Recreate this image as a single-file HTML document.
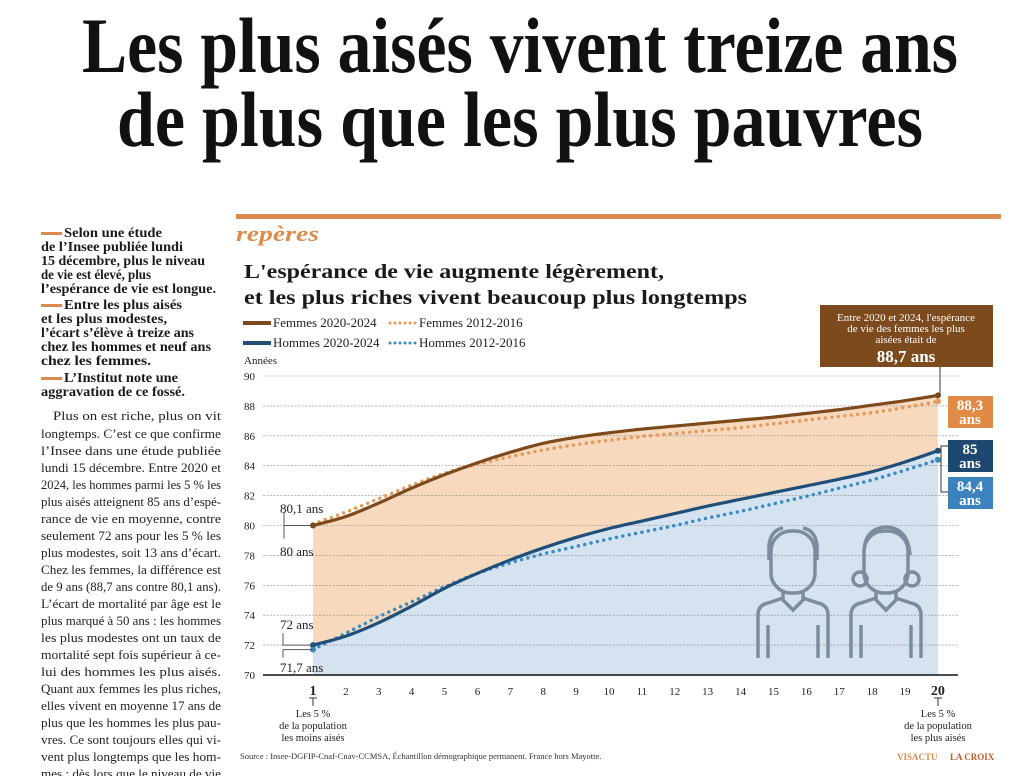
<!DOCTYPE html>
<html><head><meta charset="utf-8">
<style>
html,body{margin:0;padding:0;background:#fff;}
svg{display:block;font-family:"Liberation Serif",serif;}
</style></head>
<body>
<svg id="s" width="1031" height="776" viewBox="0 0 1031 776" xmlns="http://www.w3.org/2000/svg">
<rect width="1031" height="776" fill="#fff"/>
<text x="520" y="72" text-anchor="middle" font-size="78" font-weight="bold" fill="#111" textLength="876" lengthAdjust="spacingAndGlyphs">Les plus aisés vivent treize ans</text>
<text x="520" y="146" text-anchor="middle" font-size="78" font-weight="bold" fill="#111" textLength="806" lengthAdjust="spacingAndGlyphs">de plus que les plus pauvres</text>

<!-- sidebar -->
<g font-size="13.5" font-weight="bold" fill="#1a1a1a">
<rect x="41" y="232" width="21" height="3" fill="#d98c4d"/>
<text x="64" y="237" textLength="98" lengthAdjust="spacingAndGlyphs">Selon une étude</text>
<text x="41" y="251" textLength="142" lengthAdjust="spacingAndGlyphs">de l’Insee publiée lundi</text>
<text x="41" y="265" textLength="164" lengthAdjust="spacingAndGlyphs">15 décembre, plus le niveau</text>
<text x="41" y="279" textLength="110" lengthAdjust="spacingAndGlyphs">de vie est élevé, plus</text>
<text x="41" y="293" textLength="175" lengthAdjust="spacingAndGlyphs">l’espérance de vie est longue.</text>
<rect x="41" y="304" width="21" height="3" fill="#d98c4d"/>
<text x="64" y="309" textLength="118" lengthAdjust="spacingAndGlyphs">Entre les plus aisés</text>
<text x="41" y="323" textLength="126" lengthAdjust="spacingAndGlyphs">et les plus modestes,</text>
<text x="41" y="337" textLength="153" lengthAdjust="spacingAndGlyphs">l’écart s’élève à treize ans</text>
<text x="41" y="351" textLength="170" lengthAdjust="spacingAndGlyphs">chez les hommes et neuf ans</text>
<text x="41" y="365" textLength="110" lengthAdjust="spacingAndGlyphs">chez les femmes.</text>
<rect x="41" y="377" width="21" height="3" fill="#d98c4d"/>
<text x="64" y="382" textLength="114" lengthAdjust="spacingAndGlyphs">L’Institut note une</text>
<text x="41" y="396" textLength="144" lengthAdjust="spacingAndGlyphs">aggravation de ce fossé.</text>
</g>
<g font-size="12.5" fill="#222">
<text x="53" y="420" textLength="168" lengthAdjust="spacingAndGlyphs">Plus on est riche, plus on vit</text>
<text x="41" y="438" textLength="180" lengthAdjust="spacingAndGlyphs">longtemps. C’est ce que confirme</text>
<text x="41" y="455" textLength="180" lengthAdjust="spacingAndGlyphs">l’Insee dans une étude publiée</text>
<text x="41" y="472" textLength="180" lengthAdjust="spacingAndGlyphs">lundi 15 décembre. Entre 2020 et</text>
<text x="41" y="489" textLength="180" lengthAdjust="spacingAndGlyphs">2024, les hommes parmi les 5 % les</text>
<text x="41" y="506" textLength="180" lengthAdjust="spacingAndGlyphs">plus aisés atteignent 85 ans d’espé-</text>
<text x="41" y="523" textLength="180" lengthAdjust="spacingAndGlyphs">rance de vie en moyenne, contre</text>
<text x="41" y="540" textLength="180" lengthAdjust="spacingAndGlyphs">seulement 72 ans pour les 5 % les</text>
<text x="41" y="557" textLength="180" lengthAdjust="spacingAndGlyphs">plus modestes, soit 13 ans d’écart.</text>
<text x="41" y="574" textLength="180" lengthAdjust="spacingAndGlyphs">Chez les femmes, la différence est</text>
<text x="41" y="591" textLength="180" lengthAdjust="spacingAndGlyphs">de 9 ans (88,7 ans contre 80,1 ans).</text>
<text x="41" y="608" textLength="180" lengthAdjust="spacingAndGlyphs">L’écart de mortalité par âge est le</text>
<text x="41" y="625" textLength="180" lengthAdjust="spacingAndGlyphs">plus marqué à 50 ans : les hommes</text>
<text x="41" y="642" textLength="180" lengthAdjust="spacingAndGlyphs">les plus modestes ont un taux de</text>
<text x="41" y="659" textLength="180" lengthAdjust="spacingAndGlyphs">mortalité sept fois supérieur à ce-</text>
<text x="41" y="676" textLength="180" lengthAdjust="spacingAndGlyphs">lui des hommes les plus aisés.</text>
<text x="41" y="693" textLength="180" lengthAdjust="spacingAndGlyphs">Quant aux femmes les plus riches,</text>
<text x="41" y="710" textLength="180" lengthAdjust="spacingAndGlyphs">elles vivent en moyenne 17 ans de</text>
<text x="41" y="727" textLength="180" lengthAdjust="spacingAndGlyphs">plus que les hommes les plus pau-</text>
<text x="41" y="744" textLength="180" lengthAdjust="spacingAndGlyphs">vres. Ce sont toujours elles qui vi-</text>
<text x="41" y="761" textLength="180" lengthAdjust="spacingAndGlyphs">vent plus longtemps que les hom-</text>
<text x="41" y="778" textLength="180" lengthAdjust="spacingAndGlyphs">mes : dès lors que le niveau de vie</text>
</g>

<!-- panel header -->
<rect x="236" y="214" width="765" height="5" fill="#d98c4d"/>
<text x="236" y="241" font-size="22" font-weight="bold" font-style="italic" fill="#d98c4d" textLength="83" lengthAdjust="spacingAndGlyphs">repères</text>
<text x="244" y="278" font-size="20" font-weight="bold" fill="#1a1a1a" textLength="420" lengthAdjust="spacingAndGlyphs">L'espérance de vie augmente légèrement,</text>
<text x="244" y="304" font-size="20" font-weight="bold" fill="#1a1a1a" textLength="503" lengthAdjust="spacingAndGlyphs">et les plus riches vivent beaucoup plus longtemps</text>
<g font-size="13" fill="#222">
<line x1="243" y1="323" x2="271" y2="323" stroke="#7a4a1e" stroke-width="4"/>
<text x="273" y="327">Femmes 2020-2024</text>
<line x1="390" y1="323" x2="417" y2="323" stroke="#e39a5c" stroke-width="3" stroke-dasharray="0 5" stroke-linecap="round"/>
<text x="419" y="327">Femmes 2012-2016</text>
<line x1="243" y1="343" x2="271" y2="343" stroke="#1f4e79" stroke-width="4"/>
<text x="273" y="347">Hommes 2020-2024</text>
<line x1="390" y1="343" x2="417" y2="343" stroke="#3a8bc0" stroke-width="3" stroke-dasharray="0 5" stroke-linecap="round"/>
<text x="419" y="347">Hommes 2012-2016</text>
<text x="244" y="364" font-size="11">Années</text>
</g>

<g id="plot"></g>

<!-- annotation box -->
<rect x="820" y="305" width="173" height="62" fill="#7c4a1d"/>
<g fill="#fff" text-anchor="middle">
<text x="906" y="321" font-size="11">Entre 2020 et 2024, l'espérance</text>
<text x="906" y="332" font-size="11">de vie des femmes les plus</text>
<text x="906" y="343" font-size="11">aisées était de</text>
<text x="906" y="362" font-size="17" font-weight="bold">88,7 ans</text>
</g>
<line x1="940" y1="367" x2="940" y2="396" stroke="#333" stroke-width="1"/>
<rect x="948" y="396" width="45" height="32" fill="#e08a48"/>
<text x="970" y="410" font-size="15" font-weight="bold" fill="#fff" text-anchor="middle">88,3</text>
<text x="970" y="424" font-size="15" font-weight="bold" fill="#fff" text-anchor="middle">ans</text>
<rect x="948" y="440" width="45" height="32" fill="#1f4870"/>
<text x="970" y="454" font-size="15" font-weight="bold" fill="#fff" text-anchor="middle">85</text>
<text x="970" y="468" font-size="15" font-weight="bold" fill="#fff" text-anchor="middle">ans</text>
<rect x="948" y="477" width="45" height="32" fill="#3d82bd"/>
<text x="970" y="491" font-size="15" font-weight="bold" fill="#fff" text-anchor="middle">84,4</text>
<text x="970" y="505" font-size="15" font-weight="bold" fill="#fff" text-anchor="middle">ans</text>
<path d="M948,446 H941 V492 H948" fill="none" stroke="#333" stroke-width="1"/>

<!-- bottom labels -->
<g font-size="10.5" fill="#222" text-anchor="middle">
<text x="313" y="717">Les 5 %</text>
<text x="313" y="729">de la population</text>
<text x="313" y="741">les moins aisés</text>
<text x="938" y="717">Les 5 %</text>
<text x="938" y="729">de la population</text>
<text x="938" y="741">les plus aisés</text>
</g>
<line x1="313" y1="698" x2="313" y2="706" stroke="#333"/><line x1="309" y1="698" x2="317" y2="698" stroke="#333"/>
<line x1="938" y1="698" x2="938" y2="706" stroke="#333"/><line x1="934" y1="698" x2="942" y2="698" stroke="#333"/>
<text x="240" y="759" font-size="8.5" fill="#333">Source : Insee-DGFIP-Cnaf-Cnav-CCMSA, Échantillon démographique permanent. France hors Mayotte.</text>
<text x="897" y="760" font-size="9" font-weight="bold" fill="#d98c4d">VISACTU</text>
<text x="950" y="760" font-size="9" font-weight="bold" fill="#c05a2a">LA CROIX</text>
</svg>
<script>
const NS="http://www.w3.org/2000/svg";
const g=document.getElementById('plot');
const X=i=>313+(i-1)*32.89, Y=v=>675-(v-70)*14.95;
const F20=[80,80.6,81.5,82.5,83.4,84.2,84.9,85.5,85.9,86.2,86.45,86.65,86.85,87.05,87.25,87.5,87.75,88.05,88.35,88.7];
const F12=[80.1,80.9,81.8,82.7,83.5,84.1,84.6,85.05,85.4,85.7,85.95,86.15,86.35,86.55,86.8,87.05,87.3,87.55,87.9,88.3];
const H20=[72,72.6,73.5,74.6,75.8,76.8,77.7,78.5,79.2,79.8,80.3,80.8,81.3,81.75,82.2,82.65,83.1,83.6,84.25,85];
const H12=[71.7,72.8,73.9,74.9,75.9,76.8,77.5,78.1,78.6,79.1,79.55,80,80.5,80.95,81.45,81.95,82.5,83.05,83.7,84.4];
function path(a){const p=a.map((v,i)=>[X(i+1),Y(v)]);let d=`M${p[0][0]},${p[0][1]}`;
for(let i=0;i<p.length-1;i++){const p0=p[Math.max(0,i-1)],p1=p[i],p2=p[i+1],p3=p[Math.min(p.length-1,i+2)];
d+=` C${p1[0]+(p2[0]-p0[0])/6},${p1[1]+(p2[1]-p0[1])/6} ${p2[0]-(p3[0]-p1[0])/6},${p2[1]-(p3[1]-p1[1])/6} ${p2[0]},${p2[1]}`;}return d;}
function el(t,a){const e=document.createElementNS(NS,t);for(const k in a)e.setAttribute(k,a[k]);g.appendChild(e);return e;}
el('path',{d:path(F20)+` L${X(20)},675 L${X(1)},675 Z`,fill:'#f7d9bd'});
el('path',{d:path(H20)+` L${X(20)},675 L${X(1)},675 Z`,fill:'#d5e3f1'});
for(let v=72;v<=90;v+=2){el('line',{x1:263,x2:958,y1:Y(v),y2:Y(v),stroke:'#888','stroke-width':0.6,'stroke-dasharray':'2 1.5'});}
for(let v=70;v<=90;v+=2){const t=el('text',{x:244,y:Y(v)+4,'font-size':11,fill:'#222'});t.textContent=v;}
el('line',{x1:263,x2:958,y1:675,y2:675,stroke:'#111','stroke-width':1.5});
for(let i=1;i<=20;i++){const t=el('text',{x:X(i),y:695,'font-size':i==1||i==20?14:11,'font-weight':i==1||i==20?'bold':'normal',fill:'#222','text-anchor':'middle'});t.textContent=i;}
el('path',{d:path(F12),fill:'none',stroke:'#e39a5c','stroke-width':3.5,'stroke-dasharray':'0 6.5','stroke-linecap':'round'});
el('path',{d:path(F20),fill:'none',stroke:'#7c4a1d','stroke-width':3.2});
el('path',{d:path(H12),fill:'none',stroke:'#3a8bc0','stroke-width':3.5,'stroke-dasharray':'0 6.5','stroke-linecap':'round'});
el('path',{d:path(H20),fill:'none',stroke:'#1f4e79','stroke-width':3.2});
[[F20[0],'#7c4a1d'],[F20[19],'#7c4a1d'],[H20[0],'#1f4e79'],[H20[19],'#1f4e79'],[H12[0],'#3a8bc0'],[H12[19],'#3a8bc0'],[F12[19],'#e39a5c']].forEach((c,k)=>{
 el('circle',{cx:k%2==0&&k<6?X(1):X(20),cy:Y(c[0]),r:3,fill:c[1]});});
// left annotations
el('path',{d:`M284,${Y(80)} H313 M284,${Y(80)-13} V${Y(80)+13}`,stroke:'#555',fill:'none'});
el('path',{d:`M283,${Y(72)-12} V${Y(72)} H313 M283,${Y(71.7)} H313 M283,${Y(71.7)} V${Y(71.7)+8}`,stroke:'#555',fill:'none'});
[['80,1 ans',280,513],['80 ans',280,556],['72 ans',280,629],['71,7 ans',280,672]].forEach(a=>{const t=el('text',{x:a[1],y:a[2],'font-size':13,fill:'#222'});t.textContent=a[0];});
// icons
const ic='#7d8c9c';
function person(x,w){el('rect',{x:x+18,y:531,width:44,height:62,rx:20,fill:'none',stroke:ic,'stroke-width':3.5});
el('path',{d:`M${x+5},658 V615 Q${x+5},605 ${x+15},603 L${x+30},598 M${x+50},598 L${x+65},603 Q${x+75},605 ${x+75},615 V658 M${x+15},625 V658 M${x+65},625 V658 M${x+30},592 V600 L${x+40},610 L${x+50},600 V592`,fill:'none',stroke:ic,'stroke-width':3.5});
if(w){el('circle',{cx:x+14,cy:579,r:7,fill:'none',stroke:ic,'stroke-width':3.5});el('circle',{cx:x+66,cy:579,r:7,fill:'none',stroke:ic,'stroke-width':3.5});
el('path',{d:`M${x+18},550 Q${x+20},528 ${x+40},527 Q${x+62},528 ${x+64},555`,fill:'none',stroke:ic,'stroke-width':3.5});}
else{el('path',{d:`M${x+16},560 V545 Q${x+18},530 ${x+30},528 M${x+64},560 V545 Q${x+62},530 ${x+50},528`,fill:'none',stroke:ic,'stroke-width':3.5});}}
person(753,false);person(846,true);
</script>
</body></html>
